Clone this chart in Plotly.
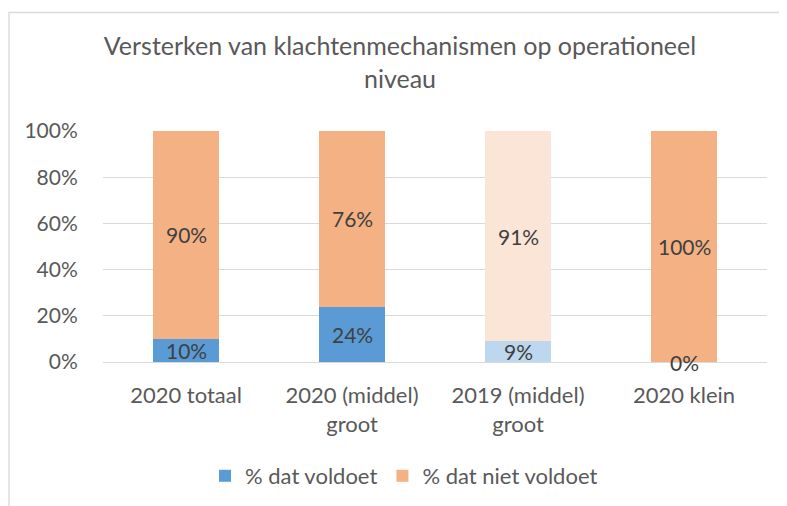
import plotly.graph_objects as go

categories = ["2020 totaal", "2020 (middel)<br>groot", "2019 (middel)<br>groot", "2020 klein"]
voldoet = [10, 24, 9, 0]
niet_voldoet = [90, 76, 91, 100]
series_names = ["% dat voldoet", "% dat niet voldoet"]
title_text = "Versterken van klachtenmechanismen op operationeel<br>niveau"
y_ticks = [0, 20, 40, 60, 80, 100]

blue = "#5B9BD5"
light_blue = "#BDD7EE"
orange = "#F4B183"
light_orange = "#FBE5D6"

blue_colors = [light_blue if c.startswith("2019") else blue for c in categories]
orange_colors = [light_orange if c.startswith("2019") else orange for c in categories]

FONT = "Lato"
# page body adds an 8px offset; margins are compensated
L, R, T, B = 95, 28, 123, 152
PW, PH = 787 - L - R, 506 - T - B

fig = go.Figure()
fig.add_trace(go.Bar(x=categories, y=voldoet, name=series_names[0],
                     marker=dict(color=blue_colors, line=dict(width=0))))
fig.add_trace(go.Bar(x=categories, y=niet_voldoet, name=series_names[1],
                     marker=dict(color=orange_colors, line=dict(width=0))))

annotations = []
for c, a, b in zip(categories, voldoet, niet_voldoet):
    annotations.append(dict(x=c, y=a / 2, text=f"{a}%", showarrow=False,
                            xref="x", yref="y", font=dict(family=FONT, size=21, color="#404040")))
    annotations.append(dict(x=c, y=a + b / 2, text=f"{b}%", showarrow=False,
                            xref="x", yref="y", font=dict(family=FONT, size=21, color="#404040")))

fig.update_layout(
    width=787, height=506,
    barmode="stack", bargap=0.6,
    paper_bgcolor="white", plot_bgcolor="white",
    margin=dict(l=L, r=R, t=T, b=B, autoexpand=False),
    title=dict(text=title_text, x=(400 - 8) / 787, xref="container", xanchor="center",
               y=1 - 47 / 506, yref="container", yanchor="top",
               font=dict(family=FONT, size=25, color="#595959")),
    font=dict(family=FONT, size=22, color="#595959"),
    showlegend=True,
    legend=dict(orientation="h", x=(404 - 8 - L) / PW, xref="paper", xanchor="center",
                y=-(476 - 362) / PH, yanchor="middle",
                font=dict(family=FONT, size=22, color="#595959"),
                itemwidth=30, traceorder="normal"),
    annotations=annotations,
    shapes=[dict(type="rect", xref="paper", yref="paper",
                 x0=(1 - L) / PW, x1=(800 - L) / PW,
                 y0=(354 - 520) / PH, y1=(354 - 4.5) / PH,
                 line=dict(color="#D9D9D9", width=1.3), fillcolor="rgba(0,0,0,0)", layer="below")],
)
fig.update_xaxes(showgrid=False, showline=False, zeroline=False, automargin=False,
                 ticks="outside", ticklen=14, tickcolor="rgba(0,0,0,0)",
                 tickfont=dict(family=FONT, size=22, color="#595959"))
fig.update_yaxes(range=[0, 100], tickvals=y_ticks, ticktext=[f"{v}%" for v in y_ticks],
                 showgrid=True, gridcolor="#D9D9D9", gridwidth=1.3, zeroline=True,
                 zerolinecolor="#D9D9D9", zerolinewidth=1.3, showline=False, automargin=False,
                 ticks="outside", ticklen=20, tickcolor="rgba(0,0,0,0)",
                 tickfont=dict(family=FONT, size=21, color="#595959"))

fig.write_html("out.html")
